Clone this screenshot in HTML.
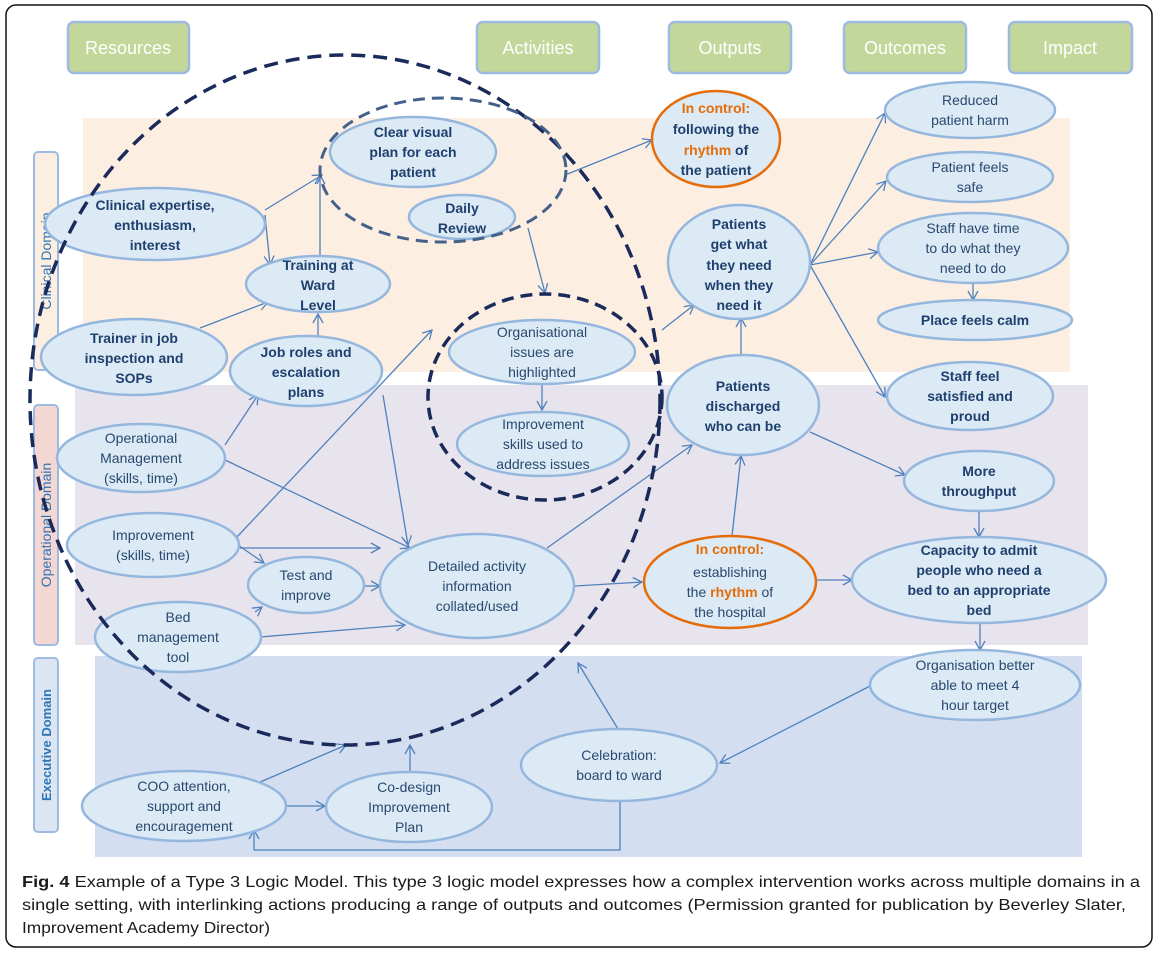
<!DOCTYPE html>
<html><head><meta charset="utf-8"><style>
body{margin:0;background:#fff;}
svg{display:block;}
text{font-family:"Liberation Sans",sans-serif;}
.e{fill:#dbeaf5;stroke:#95b7dd;stroke-width:2.5;}
.o{fill:#dbeaf5;stroke:#e46c0a;stroke-width:2.5;}
.t{font-size:14px;fill:#2a4870;text-anchor:middle;}
.b{font-weight:bold;fill:#1f3f6e;}
.a{stroke:#4f81bd;stroke-width:1.3;fill:none;marker-end:url(#m);}
.h{fill:#c4d79b;stroke:#9dbbe0;stroke-width:2.5;}
.ht{font-size:18px;fill:#fff;text-anchor:middle;}
.d{font-size:13px;font-weight:bold;fill:#2e75b6;text-anchor:middle;}
.c{font-size:16px;fill:#1a1a1a;}
</style></head><body>
<svg width="1161" height="955" viewBox="0 0 1161 955">
<defs><marker id="m" markerWidth="12" markerHeight="12" refX="10" refY="6" orient="auto" markerUnits="userSpaceOnUse"><path d="M1,1 L10,6 L1,11" fill="none" stroke="#4f81bd" stroke-width="1.3"/></marker></defs>
<rect x="6" y="5" width="1146" height="942" rx="10" fill="#fff" stroke="#111" stroke-width="1.5"/>
<rect x="83" y="118" width="987" height="254" fill="#fdeee2"/>
<rect x="75" y="385" width="1013" height="260" fill="#e8e4ee"/>
<rect x="95" y="656" width="987" height="201" fill="#d3dff0"/>
<rect x="34" y="152" width="24" height="218" rx="4" fill="#fdeee2" stroke="#9dbbe0" stroke-width="2"/>
<rect x="34" y="405" width="24" height="240" rx="4" fill="#f4d7d2" stroke="#9dbbe0" stroke-width="2"/>
<rect x="34" y="658" width="24" height="174" rx="4" fill="#dce6f2" stroke="#9dbbe0" stroke-width="2"/>
<text class="d" style="font-weight:normal;font-size:14px;fill:#2e75b6" transform="translate(51,261) rotate(-90)">Clinical Domain</text>
<text class="d" style="font-weight:normal;font-size:14px;fill:#2e75b6" transform="translate(51,525) rotate(-90)">Operational Domain</text>
<text class="d" transform="translate(51,745) rotate(-90)">Executive Domain</text>
<rect class="h" x="68" y="22" width="121" height="51" rx="6"/><text class="ht" x="128" y="54">Resources</text>
<rect class="h" x="477" y="22" width="122" height="51" rx="6"/><text class="ht" x="538" y="54">Activities</text>
<rect class="h" x="669" y="22" width="122" height="51" rx="6"/><text class="ht" x="730" y="54">Outputs</text>
<rect class="h" x="844" y="22" width="122" height="51" rx="6"/><text class="ht" x="905" y="54">Outcomes</text>
<rect class="h" x="1009" y="22" width="123" height="51" rx="6"/><text class="ht" x="1070" y="54">Impact</text>
<path class="a" d="M265,210 L322,175"/>
<path class="a" d="M265,215 L270,265"/>
<path class="a" d="M320,256 L320,175"/>
<path class="a" d="M200,328 L268,302"/>
<path class="a" d="M318,337 L318,314"/>
<path class="a" d="M225,445 L258,395"/>
<path class="a" d="M225,460 L410,548"/>
<path class="a" d="M383,395 L408,545"/>
<path class="a" d="M236,538 L432,330"/>
<path class="a" d="M238,545 L264,563"/>
<path class="a" d="M240,548 L380,548"/>
<path class="a" d="M364,586 L380,586"/>
<path class="a" d="M255,612 L262,607"/>
<path class="a" d="M260,637 L405,625"/>
<path class="a" d="M547,548 L692,445"/>
<path class="a" d="M575,586 L642,582"/>
<path class="a" d="M565,175 L652,140"/>
<path class="a" d="M528,228 L545,293"/>
<path class="a" d="M542,385 L542,410"/>
<path class="a" d="M662,330 L694,305"/>
<path class="a" d="M741,355 L741,318"/>
<path class="a" d="M732,536 L741,456"/>
<path class="a" d="M810,265 L885,113"/>
<path class="a" d="M810,265 L886,181"/>
<path class="a" d="M810,265 L878,252"/>
<path class="a" d="M810,265 L885,397"/>
<path class="a" d="M973,283 L973,300"/>
<path class="a" d="M810,432 L905,475"/>
<path class="a" d="M979,511 L979,537"/>
<path class="a" d="M816,580 L852,580"/>
<path class="a" d="M980,623 L980,650"/>
<path class="a" d="M870,686 L720,763"/>
<path class="a" d="M618,729 L578,663"/>
<path class="a" d="M620,801 L620,850 L254,850 L254,830"/>
<path class="a" d="M258,783 L346,745"/>
<path class="a" d="M286,806 L325,806"/>
<path class="a" d="M410,772 L410,745"/>
<ellipse class="e" cx="155" cy="224" rx="110" ry="36"/>
<text class="t b" x="155" y="210">Clinical expertise,</text><text class="t b" x="155" y="230">enthusiasm,</text><text class="t b" x="155" y="250">interest</text>
<ellipse class="e" cx="134" cy="357" rx="93" ry="38"/>
<text class="t b" x="134" y="343">Trainer in job</text><text class="t b" x="134" y="363">inspection and</text><text class="t b" x="134" y="383">SOPs</text>
<ellipse class="e" cx="318" cy="284" rx="72" ry="28"/>
<text class="t b" x="318" y="270">Training at</text><text class="t b" x="318" y="290">Ward</text><text class="t b" x="318" y="310">Level</text>
<ellipse class="e" cx="306" cy="371" rx="76" ry="35"/>
<text class="t b" x="306" y="357">Job roles and</text><text class="t b" x="306" y="377">escalation</text><text class="t b" x="306" y="397">plans</text>
<ellipse class="e" cx="413" cy="152" rx="83" ry="35"/>
<text class="t b" x="413" y="137">Clear visual</text><text class="t b" x="413" y="157">plan for each</text><text class="t b" x="413" y="177">patient</text>
<ellipse class="e" cx="462" cy="217" rx="53" ry="22"/>
<text class="t b" x="462" y="213">Daily</text><text class="t b" x="462" y="233">Review</text>
<ellipse class="e" cx="141" cy="458" rx="84" ry="34"/>
<text class="t" x="141" y="443">Operational</text><text class="t" x="141" y="463">Management</text><text class="t" x="141" y="483">(skills, time)</text>
<ellipse class="e" cx="153" cy="545" rx="86" ry="32"/>
<text class="t" x="153" y="540">Improvement</text><text class="t" x="153" y="560">(skills, time)</text>
<ellipse class="e" cx="306" cy="585" rx="58" ry="28"/>
<text class="t" x="306" y="580">Test and</text><text class="t" x="306" y="600">improve</text>
<ellipse class="e" cx="178" cy="637" rx="83" ry="35"/>
<text class="t" x="178" y="622">Bed</text><text class="t" x="178" y="642">management</text><text class="t" x="178" y="662">tool</text>
<ellipse class="e" cx="477" cy="586" rx="97" ry="52"/>
<text class="t" x="477" y="571">Detailed activity</text><text class="t" x="477" y="591">information</text><text class="t" x="477" y="611">collated/used</text>
<ellipse class="e" cx="542" cy="352" rx="93" ry="32"/>
<text class="t" x="542" y="337">Organisational</text><text class="t" x="542" y="357">issues are</text><text class="t" x="542" y="377">highlighted</text>
<ellipse class="e" cx="543" cy="444" rx="86" ry="32"/>
<text class="t" x="543" y="429">Improvement</text><text class="t" x="543" y="449">skills used to</text><text class="t" x="543" y="469">address issues</text>
<ellipse class="o" cx="716" cy="139" rx="64" ry="48"/>
<text class="t b" x="716" y="113" style="fill:#e46c0a">In control:</text><text class="t b" x="716" y="134">following the</text><text class="t b" x="716" y="155"><tspan style="fill:#e46c0a">rhythm</tspan> of</text><text class="t b" x="716" y="175">the patient</text>
<ellipse class="e" cx="739" cy="262" rx="71" ry="57"/>
<text class="t b" x="739" y="229">Patients</text><text class="t b" x="739" y="249">get what</text><text class="t b" x="739" y="270">they need</text><text class="t b" x="739" y="290">when they</text><text class="t b" x="739" y="310">need it</text>
<ellipse class="e" cx="743" cy="405" rx="76" ry="50"/>
<text class="t b" x="743" y="391">Patients</text><text class="t b" x="743" y="411">discharged</text><text class="t b" x="743" y="431">who can be</text>
<ellipse class="o" cx="730" cy="582" rx="86" ry="46"/>
<text class="t b" x="730" y="554" style="fill:#e46c0a">In control:</text><text class="t" x="730" y="577">establishing</text><text class="t" x="730" y="597">the <tspan style="fill:#e46c0a;font-weight:bold">rhythm</tspan> of</text><text class="t" x="730" y="617">the hospital</text>
<ellipse class="e" cx="970" cy="110" rx="85" ry="28"/>
<text class="t" x="970" y="105">Reduced</text><text class="t" x="970" y="125">patient harm</text>
<ellipse class="e" cx="970" cy="177" rx="83" ry="25"/>
<text class="t" x="970" y="172">Patient feels</text><text class="t" x="970" y="192">safe</text>
<ellipse class="e" cx="973" cy="248" rx="95" ry="35"/>
<text class="t" x="973" y="233">Staff have time</text><text class="t" x="973" y="253">to do what they</text><text class="t" x="973" y="273">need to do</text>
<ellipse class="e" cx="975" cy="320" rx="97" ry="20"/>
<text class="t b" x="975" y="325">Place feels calm</text>
<ellipse class="e" cx="970" cy="396" rx="83" ry="34"/>
<text class="t b" x="970" y="381">Staff feel</text><text class="t b" x="970" y="401">satisfied and</text><text class="t b" x="970" y="421">proud</text>
<ellipse class="e" cx="979" cy="481" rx="75" ry="30"/>
<text class="t b" x="979" y="476">More</text><text class="t b" x="979" y="496">throughput</text>
<ellipse class="e" cx="979" cy="580" rx="127" ry="43"/>
<text class="t b" x="979" y="555">Capacity to admit</text><text class="t b" x="979" y="575">people who need a</text><text class="t b" x="979" y="595">bed to an appropriate</text><text class="t b" x="979" y="615">bed</text>
<ellipse class="e" cx="975" cy="685" rx="105" ry="35"/>
<text class="t" x="975" y="670">Organisation better</text><text class="t" x="975" y="690">able to meet 4</text><text class="t" x="975" y="710">hour target</text>
<ellipse class="e" cx="619" cy="765" rx="98" ry="36"/>
<text class="t" x="619" y="760">Celebration:</text><text class="t" x="619" y="780">board to ward</text>
<ellipse class="e" cx="184" cy="806" rx="102" ry="35"/>
<text class="t" x="184" y="791">COO attention,</text><text class="t" x="184" y="811">support and</text><text class="t" x="184" y="831">encouragement</text>
<ellipse class="e" cx="409" cy="807" rx="83" ry="35"/>
<text class="t" x="409" y="792">Co-design</text><text class="t" x="409" y="812">Improvement</text><text class="t" x="409" y="832">Plan</text>
<ellipse cx="345" cy="400" rx="315" ry="345" fill="none" stroke="#1a2a5a" stroke-width="3.5" stroke-dasharray="14 8"/>
<ellipse cx="443" cy="170" rx="123" ry="72" fill="none" stroke="#44618a" stroke-width="3" stroke-dasharray="12 7"/>
<ellipse cx="545" cy="397" rx="117" ry="103" fill="none" stroke="#1a2a5a" stroke-width="3.5" stroke-dasharray="12 7"/>
<text class="c" x="22" y="887" textLength="1118" lengthAdjust="spacingAndGlyphs"><tspan font-weight="bold">Fig. 4</tspan> Example of a Type 3 Logic Model. This type 3 logic model expresses how a complex intervention works across multiple domains in a</text>
<text class="c" x="22" y="910" textLength="1104" lengthAdjust="spacingAndGlyphs">single setting, with interlinking actions producing a range of outputs and outcomes (Permission granted for publication by Beverley Slater,</text>
<text class="c" x="22" y="933" textLength="248" lengthAdjust="spacingAndGlyphs">Improvement Academy Director)</text>
</svg>
</body></html>
